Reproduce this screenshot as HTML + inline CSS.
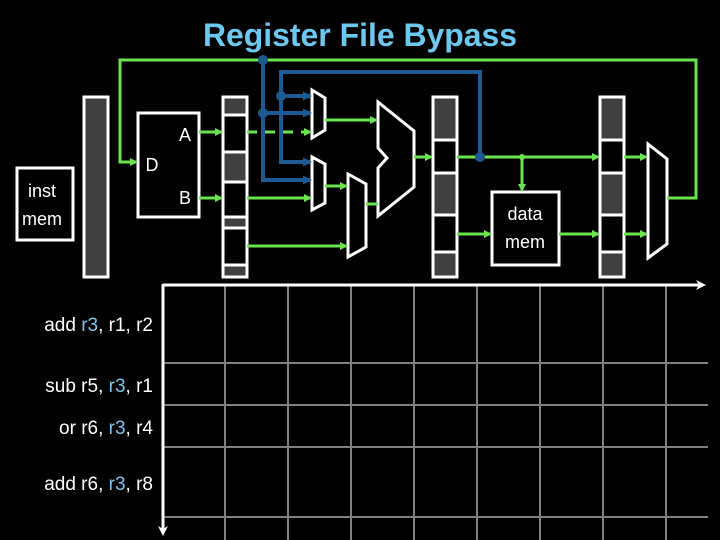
<!DOCTYPE html>
<html><head><meta charset="utf-8"><style>
html,body{margin:0;padding:0;background:#000;}
svg{display:block;}
text{font-family:"Liberation Sans",sans-serif;}
</style></head><body>
<svg width="720" height="540" viewBox="0 0 720 540" xmlns="http://www.w3.org/2000/svg">
<defs>
<marker id="g" markerWidth="8" markerHeight="8" refX="6" refY="4" orient="auto" markerUnits="userSpaceOnUse" viewBox="0 0 8 8"><path d="M0,0 L8,4 L0,8 Z" fill="#6be34f"/></marker>
<marker id="b" markerWidth="9" markerHeight="9" refX="7" refY="4.5" orient="auto" markerUnits="userSpaceOnUse" viewBox="0 0 9 9"><path d="M0,0 L9,4.5 L0,9 Z" fill="#1d5a94"/></marker>
<marker id="w" markerWidth="10" markerHeight="10" refX="7" refY="5" orient="auto" markerUnits="userSpaceOnUse" viewBox="0 0 10 10"><path d="M0,0 L10,5 L0,10 L3,5 Z" fill="#fff"/></marker>
</defs>
<text x="360" y="46" text-anchor="middle" font-size="32" font-weight="bold" fill="#6cc8ee" textLength="314" lengthAdjust="spacingAndGlyphs">Register File Bypass</text>

<!-- grid -->
<g stroke="#808080" stroke-width="2">
<line x1="225" y1="284" x2="225" y2="540"/><line x1="288" y1="284" x2="288" y2="540"/>
<line x1="351" y1="284" x2="351" y2="540"/><line x1="414" y1="284" x2="414" y2="540"/>
<line x1="477" y1="284" x2="477" y2="540"/><line x1="540" y1="284" x2="540" y2="540"/>
<line x1="603" y1="284" x2="603" y2="540"/><line x1="666" y1="284" x2="666" y2="540"/>
<line x1="163" y1="363" x2="708" y2="363"/><line x1="163" y1="405" x2="708" y2="405"/>
<line x1="163" y1="447" x2="708" y2="447"/><line x1="163" y1="517" x2="708" y2="517"/>
</g>
<line x1="163" y1="285" x2="703" y2="285" stroke="#fff" stroke-width="3" marker-end="url(#w)"/>
<line x1="163" y1="284" x2="163" y2="533" stroke="#fff" stroke-width="3" marker-end="url(#w)"/>

<!-- instructions -->
<g font-size="19" fill="#fff" text-anchor="end">
<text x="153" y="331">add <tspan fill="#7cc4e8">r3</tspan>, r1, r2</text>
<text x="153" y="392">sub r5, <tspan fill="#7cc4e8">r3</tspan>, r1</text>
<text x="153" y="434">or r6, <tspan fill="#7cc4e8">r3</tspan>, r4</text>
<text x="153" y="490">add r6, <tspan fill="#7cc4e8">r3</tspan>, r8</text>
</g>

<!-- inst mem -->
<rect x="17" y="168" width="56" height="72" fill="none" stroke="#fff" stroke-width="3"/>
<text x="42" y="197" font-size="18" fill="#fff" text-anchor="middle">inst</text>
<text x="42" y="225" font-size="18" fill="#fff" text-anchor="middle">mem</text>
<rect x="84" y="97" width="24" height="180" fill="#404040" stroke="#fff" stroke-width="3"/>

<!-- RF -->
<rect x="138" y="113" width="61" height="104" fill="none" stroke="#fff" stroke-width="3"/>
<text x="185" y="141" font-size="18" fill="#fff" text-anchor="middle">A</text>
<text x="152" y="171" font-size="18" fill="#fff" text-anchor="middle">D</text>
<text x="185" y="204" font-size="18" fill="#fff" text-anchor="middle">B</text>

<!-- pipe reg 1 -->
<g stroke="#fff" stroke-width="3">
<rect x="223" y="97" width="24" height="180" fill="#000"/>
<rect x="223" y="97" width="24" height="18" fill="#404040"/>
<rect x="223" y="152" width="24" height="30" fill="#404040"/>
<rect x="223" y="217" width="24" height="11" fill="#404040"/>
<rect x="223" y="265" width="24" height="12" fill="#404040"/>
</g>
<!-- pipe reg 2 -->
<g stroke="#fff" stroke-width="3">
<rect x="433" y="97" width="24" height="180" fill="#000"/>
<rect x="433" y="97" width="24" height="43" fill="#404040"/>
<rect x="433" y="173" width="24" height="42" fill="#404040"/>
<rect x="433" y="252" width="24" height="25" fill="#404040"/>
</g>
<!-- pipe reg 3 -->
<g stroke="#fff" stroke-width="3">
<rect x="600" y="97" width="24" height="180" fill="#000"/>
<rect x="600" y="97" width="24" height="43" fill="#404040"/>
<rect x="600" y="173" width="24" height="42" fill="#404040"/>
<rect x="600" y="252" width="24" height="25" fill="#404040"/>
</g>

<!-- muxes & ALU -->
<g fill="none" stroke="#fff" stroke-width="3">
<path d="M312,90 L325,98 L325,130 L312,138 Z"/>
<path d="M312,157 L325,164 L325,203 L312,210 Z"/>
<path d="M348,174 L366,184 L366,247 L348,257 Z"/>
<path d="M378,102 L414,131 L414,187 L378,216 L378,168 L387,158 L378,148 Z"/>
<path d="M648,144 L667,159 L667,244 L648,258 Z"/>
</g>

<!-- data mem -->
<rect x="492" y="192" width="67" height="73" fill="none" stroke="#fff" stroke-width="3"/>
<text x="525" y="220" font-size="18" fill="#fff" text-anchor="middle">data</text>
<text x="525" y="248" font-size="18" fill="#fff" text-anchor="middle">mem</text>

<!-- green wires -->
<g stroke="#6be34f" stroke-width="3" fill="none">
<polyline points="667,198 696,198 696,60 120,60 120,162 136,162" marker-end="url(#g)"/>
<line x1="199" y1="132" x2="221" y2="132" marker-end="url(#g)"/>
<line x1="199" y1="198" x2="221" y2="198" marker-end="url(#g)"/>
<line x1="247" y1="132" x2="310" y2="132" stroke-dasharray="10,8" marker-end="url(#g)"/>
<line x1="247" y1="198" x2="310" y2="198" marker-end="url(#g)"/>
<line x1="247" y1="246" x2="346" y2="246" marker-end="url(#g)"/>
<line x1="325" y1="120" x2="376" y2="120" marker-end="url(#g)"/>
<line x1="325" y1="186" x2="346" y2="186" marker-end="url(#g)"/>
<line x1="366" y1="204" x2="378" y2="204"/>
<line x1="414" y1="157" x2="431" y2="157" marker-end="url(#g)"/>
<line x1="457" y1="157" x2="598" y2="157" marker-end="url(#g)"/>
<line x1="522" y1="157" x2="522" y2="190" marker-end="url(#g)"/>
<line x1="457" y1="234" x2="490" y2="234" marker-end="url(#g)"/>
<line x1="559" y1="234" x2="598" y2="234" marker-end="url(#g)"/>
<line x1="624" y1="157" x2="646" y2="157" marker-end="url(#g)"/>
<line x1="624" y1="234" x2="646" y2="234" marker-end="url(#g)"/>
</g>
<circle cx="522" cy="157" r="3" fill="#6be34f"/>

<!-- blue wires -->
<g stroke="#1d5a94" stroke-width="4" fill="none">
<polyline points="263,60 263,180 310,180" marker-end="url(#b)"/>
<line x1="263" y1="113" x2="310" y2="113" marker-end="url(#b)"/>
<polyline points="480,157 480,72 281,72 281,162 310,162" marker-end="url(#b)"/>
<line x1="281" y1="96" x2="310" y2="96" marker-end="url(#b)"/>
</g>
<g fill="#1d5a94">
<circle cx="263" cy="60" r="5"/><circle cx="263" cy="113" r="5"/>
<circle cx="281" cy="96" r="5"/><circle cx="480" cy="157" r="5"/>
</g>
</svg>
</body></html>
